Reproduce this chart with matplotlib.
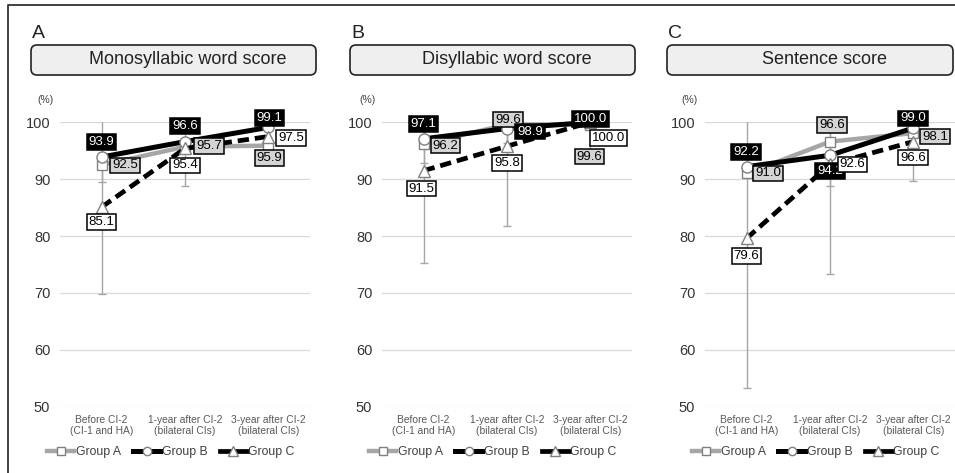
import numpy as np
import matplotlib
matplotlib.use('Agg')
import matplotlib.pyplot as plt
from matplotlib.patches import FancyBboxPatch
from matplotlib.lines import Line2D
from matplotlib.transforms import IdentityTransform

plt.rcParams['font.family'] = ['Liberation Sans', 'DejaVu Sans']

nan = np.nan

# data
categories = ['Before CI-2\n(CI-1 and HA)', '1-year after CI-2\n(bilateral CIs)',
              '3-year after CI-2\n(bilateral CIs)']
groups = ['Group A', 'Group B', 'Group C']
panel_letters = ['A', 'B', 'C']
titles = ['Monosyllabic word score', 'Disyllabic word score', 'Sentence score']

mono_a = [92.5, 95.7, 95.9]
mono_b = [93.9, 96.6, 99.1]
mono_c = [85.1, 95.4, 97.5]
di_a = [96.2, 99.6, 99.6]
di_b = [97.1, 98.9, 100.0]
di_c = [91.5, 95.8, 100.0]
sent_a = [91.0, 96.6, 98.1]
sent_b = [92.2, 94.2, 99.0]
sent_c = [79.6, 92.6, 96.6]

# standard deviations (only the visible error bars)
mono_sd_a = [3.0, nan, 1.5]
mono_sd_b = [nan, nan, nan]
mono_sd_c = [15.3, 6.6, nan]
di_sd_a = [3.4, 3.3, 4.5]
di_sd_b = [nan, nan, nan]
di_sd_c = [16.3, 14.1, nan]
sent_sd_a = [nan, nan, nan]
sent_sd_b = [nan, 5.4, nan]
sent_sd_c = [26.3, 19.3, 7.0]

values = [[mono_a, mono_b, mono_c], [di_a, di_b, di_c], [sent_a, sent_b, sent_c]]
sds = [[mono_sd_a, mono_sd_b, mono_sd_c], [di_sd_a, di_sd_b, di_sd_c],
       [sent_sd_a, sent_sd_b, sent_sd_c]]

# label offsets in pixels (dx, dy) per panel / group / point
offsets = [
    [[(23.5, -0.5), (24, 0.8), (1, -12.4)],
     [(0, 15), (0, 15.6), (1, 9.4)],
     [(0, -15), (0, -17), (22.5, -1.5)]],
    [[(22, -1.6), (1, 5), (-1, -32)],
     [(0, 15), (23, -3), (0, 3)],
     [(-2, -18), (0, -17), (18.5, -16)]],
    [[(21.5, 0), (2, 16.6), (21.5, -3.4)],
     [(-0.5, 15), (0, -16), (-0.5, 9.5)],
     [(0, -17.6), (22.5, 0), (-0.5, -16)]],
]

styles = {
    'Group A': dict(color='#a6a6a6', lw=3.2, ls='-', marker='s', ms=7.5),
    'Group B': dict(color='black', lw=3.6, ls='-', marker='o', ms=8),
    'Group C': dict(color='black', lw=3.4, ls=(0, (2.4, 1.25)), marker='^', ms=8.5),
}
boxes = {
    'Group A': ('#d4d4d4', 'black'),
    'Group B': ('black', 'white'),
    'Group C': ('white', 'black'),
}

W, H = 955, 473
fig = plt.figure(figsize=(W / 100, H / 100), dpi=100)


def fx(x):
    return x / W


def fy(y):
    return 1 - y / H


ax_left = [60, 382, 705]
box_x = [(31, 316), (350, 635), (667, 953)]
y_top, y_bot = 122.3, 406.7
x = np.arange(len(categories))

for p in range(3):
    ax = fig.add_axes([fx(ax_left[p]), fy(y_bot), 250 / W, (y_bot - y_top) / H])
    ax.set_xlim(-0.5, 2.5)
    ax.set_ylim(50, 100)
    ax.set_yticks([50, 60, 70, 80, 90, 100])
    ax.yaxis.grid(True, color='#d9d9d9', lw=0.9)
    ax.set_axisbelow(True)
    for s in ax.spines.values():
        s.set_visible(False)
    ax.tick_params(length=0)
    ax.tick_params(axis='y', labelsize=10.5, labelcolor='#333333', pad=7)
    ax.set_xticks(x)
    ax.set_xticklabels(categories, fontsize=7.4, color='#595959', linespacing=1.15)
    ax.tick_params(axis='x', pad=6)
    ax.text(-0.06, 1.078, '(%)', transform=ax.transAxes, ha='center', va='center',
            fontsize=7.5, color='#404040')

    handles = []
    for g, name in enumerate(groups):
        st = styles[name]
        vals = values[p][g]
        ax.errorbar(x, vals, yerr=sds[p][g], fmt='none', ecolor='#a6a6a6',
                    elinewidth=1, capsize=3, capthick=1, zorder=1.5)
        ax.plot(x, vals, color=st['color'], lw=st['lw'], ls=st['ls'],
                marker=st['marker'], ms=st['ms'], mfc='white',
                mec='#808080', mew=1, clip_on=False, zorder=2 + g,
                label=name)
        handles.append(Line2D([], [], color=st['color'], lw=st['lw'],
                              marker=st['marker'], ms=st['ms'] - 2, mfc='white',
                              mec='#808080', mew=1))
    for g, name in enumerate(groups):
        fc, tc = boxes[name]
        for i, v in enumerate(values[p][g]):
            dx, dy = offsets[p][g][i]
            ax.annotate(f'{v:.1f}', (x[i], v), xytext=(dx, dy),
                        textcoords='offset pixels', ha='center', va='center',
                        fontsize=9.5, color=tc, annotation_clip=False,
                        bbox=dict(boxstyle='square,pad=0.14', fc=fc, ec='black',
                                  lw=1.1),
                        zorder=6 + g)

    leg = ax.legend(handles, groups, ncol=3, loc='center',
                    bbox_to_anchor=(0.444, -0.159), frameon=False, fontsize=8.8,
                    handlelength=2.2, handletextpad=0.15, columnspacing=1.0)
    for t in leg.get_texts():
        t.set_color('#404040')

    # panel letter and title box
    x0, x1 = box_x[p]
    fig.text(fx(x0 + 1), fy(33), panel_letters[p], fontsize=14, ha='left',
             va='center', color='#222222')
    fig.add_artist(FancyBboxPatch((x0, H - 75), x1 - x0, 30,
                                  boxstyle='round,pad=0,rounding_size=6',
                                  fc='#efefef', ec='#222222', lw=1.2,
                                  transform=IdentityTransform()))
    fig.text(fx((x0 + x1) / 2 + 14), fy(60), titles[p], fontsize=13,
             ha='center', va='center', color='#222222')

# outer frame (left and top edges)
fig.add_artist(Line2D([fx(8), fx(8), 1.0], [0, fy(5), fy(5)],
                      transform=fig.transFigure, color='#333333', lw=1.3))

fig.savefig('out.png', dpi=100)
